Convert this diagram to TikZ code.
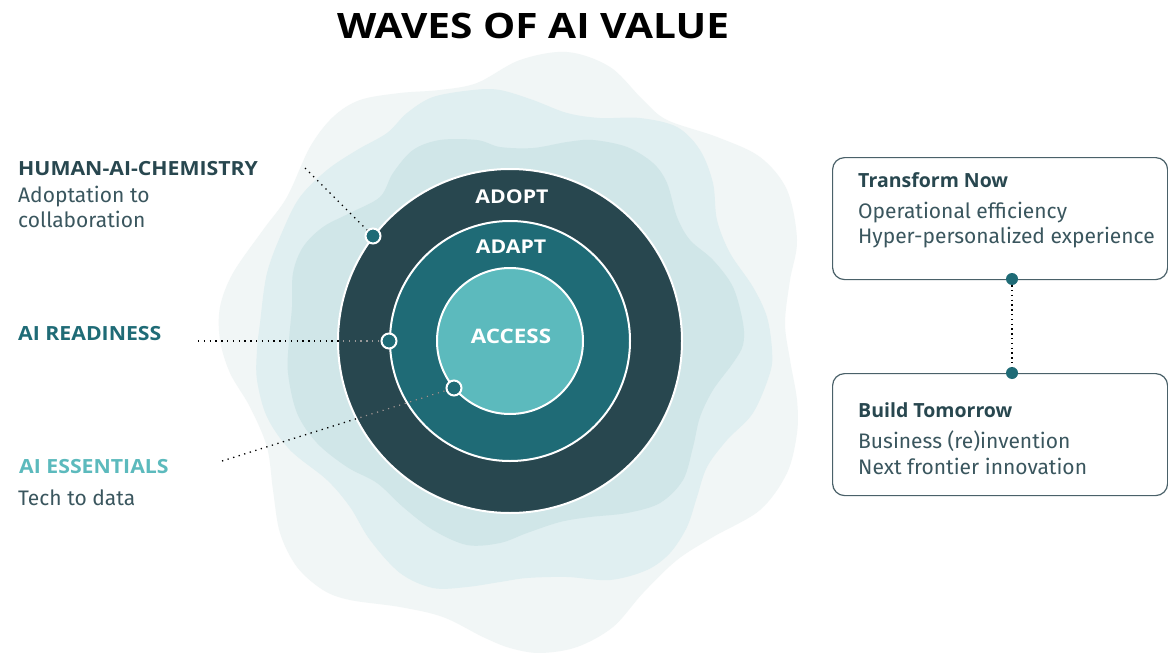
\documentclass[tikz,border=0pt]{standalone}
\usepackage{fontspec}
\setmainfont{Fira Sans}
\newfontfamily\titlefont[FakeStretch=1.16]{Open Sans}
\newfontfamily\ringfont[FakeStretch=1.12]{Open Sans}
\newfontfamily\headfont{Open Sans}
\newfontfamily\capsfont[FakeStretch=1.09]{Open Sans}
\definecolor{cdark}{HTML}{28474F}
\definecolor{cteal}{HTML}{1F6B76}
\definecolor{clight}{HTML}{5CBABD}
\definecolor{ctext}{HTML}{3A565E}
\definecolor{cborder}{HTML}{4A6169}
\definecolor{blobA}{HTML}{F1F6F6}
\definecolor{blobB}{HTML}{E0EFF1}
\definecolor{blobC}{HTML}{D0E6E8}
\tikzset{
  head/.style={anchor=base west, inner sep=0pt, font=\headfont\bfseries\fontsize{19.5}{22}\selectfont, text=cdark},
  capshead/.style={anchor=base west, inner sep=0pt, font=\capsfont\bfseries\fontsize{19.5}{22}\selectfont, text=cdark},
  body/.style={anchor=base west, inner sep=0pt, font=\fontsize{21}{24}\selectfont, text=ctext},
  ring/.style={circle, draw=white, line width=2pt, inner sep=0pt},
  ringlabel/.style={anchor=base, inner sep=0pt, text=white, font=\ringfont\bfseries\fontsize{19}{22}\selectfont},
  ringdot/.style={circle, fill=cteal, draw=white, line width=2pt, minimum size=15pt, inner sep=0pt},
  smalldot/.style={circle, fill=cteal, minimum size=12pt, inner sep=0pt},
  leader/.style={line width=1.3pt, dash pattern=on 1.3pt off 4.5pt, draw=black},
  infobox/.style={draw=cborder, line width=1.2pt, rounded corners=12pt, anchor=north west, inner sep=0pt, minimum width=335pt, minimum height=122pt},
}
\begin{document}
\begin{tikzpicture}[x=1pt,y=-1pt]
\useasboundingbox (0,0) rectangle (1168,653);
\fill[white] (0,0) rectangle (1168,653);
% blobs
\fill[blobA] plot[smooth cycle, tension=0.55] coordinates {
(567,52) (610,67) (643,100) (667,120) (717,137) (760,157) (787,190) (797,240) (790,280) (785,323) (790,360) (797,400) (797,433) (787,473) (760,510) (713,537) (677,560) (643,593) (613,627) (577,647) (540,653) (510,648) (483,637) (443,617) (400,607) (350,600) (323,590) (297,567) (280,533) (273,490) (267,447) (250,407) (230,373) (220,340) (220,307) (233,273) (263,230) (287,197) (310,147) (333,117) (360,100) (400,93) (440,90) (477,83) (520,60)};
\fill[blobB] plot[smooth cycle, tension=0.55] coordinates {
(500,90) (533,100) (567,113) (600,118) (640,118) (677,127) (700,150) (713,183) (717,220) (730,253) (753,287) (767,317) (772,350) (770,373) (753,413) (727,440) (707,467) (697,497) (687,527) (670,553) (647,570) (610,580) (567,577) (527,578) (500,582) (467,587) (433,588) (400,573) (370,540) (350,507) (327,480) (290,450) (267,417) (257,380) (257,350) (260,323) (267,273) (283,230) (300,197) (327,170) (357,150) (387,133) (407,113) (433,97) (473,90)};
\fill[blobC] plot[smooth cycle, tension=0.55] coordinates {
(500,147) (533,148) (567,142) (593,140) (627,147) (653,163) (667,183) (677,217) (690,240) (713,260) (733,287) (743,323) (743,345) (733,363) (713,390) (700,417) (693,447) (683,480) (660,503) (627,513) (590,517) (560,522) (527,533) (500,543) (467,545) (433,530) (403,507) (377,483) (347,467) (317,443) (297,413) (288,373) (289,340) (292,307) (293,273) (303,247) (323,227) (350,213) (380,197) (393,173) (413,150) (440,140) (477,140)};
% title
\node[anchor=base, inner sep=0pt, font=\titlefont\bfseries\fontsize{35}{40}\selectfont] (title) at (533,38) {WAVES OF AI VALUE};
% rings
\node[ring, fill=cdark, minimum size=344pt] (outer) at (510,341) {};
\node[ring, fill=cteal, minimum size=240pt] (middle) at (510,341) {};
\node[ring, fill=clight, minimum size=146pt] (inner) at (510,341) {};
\node[ringlabel] (adopt) at (512,203) {ADOPT};
\node[ringlabel] (adapt) at (511,253) {ADAPT};
\node[ringlabel, font=\ringfont\bfseries\fontsize{20}{24}\selectfont] (access) at (511,343) {ACCESS};
% leader end points
\coordinate (hs) at (305,168);
\coordinate (rs) at (198,341);
\coordinate (es) at (222,461);
\coordinate (hd) at (373,236);
\coordinate (rd) at (389,341);
\coordinate (ed) at (454,388);
\draw[leader] (hs) -- (hd);
\draw[leader] (rs) -- (rd);
\draw[leader] (es) -- (ed);
\begin{scope}
\clip (510,341) circle (171pt);
\draw[leader, draw=white, opacity=0.6] (rs) -- (rd);
\draw[leader, draw=white, opacity=0.6] (es) -- (ed);
\end{scope}
\node[ringdot] (hdot) at (hd) {};
\node[ringdot] (rdot) at (rd) {};
\node[ringdot] (edot) at (ed) {};
% left labels
\node[capshead] (human) at (18,175) {HUMAN-AI-CHEMISTRY};
\node[body] (human1) at (18,202) {Adoptation to};
\node[body] (human2) at (18,227) {collaboration};
\node[capshead, text=cteal] (ready) at (18,340) {AI READINESS};
\node[capshead, text=clight] (ess) at (19,473) {AI ESSENTIALS};
\node[body] (ess1) at (18,505) {Tech to data};
% right boxes
\node[infobox] (tbox) at (832,157) {};
\node[infobox] (bbox) at (832,373) {};
\node[head] (tn) at (858,187) {Transform Now};
\node[body] (tn1) at (858,218) {Operational efficiency};
\node[body] (tn2) at (858,243) {Hyper-personalized experience};
\node[head] (bt) at (858,417) {Build Tomorrow};
\node[body] (bt1) at (858,448) {Business (re)invention};
\node[body] (bt2) at (858,474) {Next frontier innovation};
\node[smalldot] (d1) at (1012,279) {};
\node[smalldot] (d2) at (1012,373) {};
\draw[line width=1.3pt, dash pattern=on 1.3pt off 3.5pt, draw=black] (d1) -- (d2);
\end{tikzpicture}
\end{document}
